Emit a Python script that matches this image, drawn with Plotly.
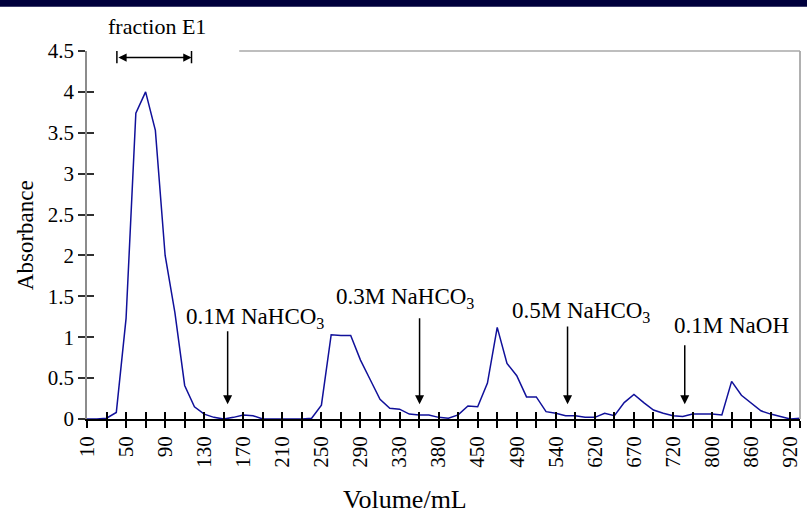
import plotly.graph_objects as go

# ---- data ----
volumes = [10, 20, 30, 40, 50, 60, 70, 80, 90, 100, 110, 120, 130, 140, 150, 160,
           170, 180, 190, 200, 210, 220, 230, 240, 250, 260, 270, 280, 290, 300,
           310, 320, 330, 340, 355, 370, 380, 400, 420, 440, 450, 460, 470, 480,
           490, 500, 515, 525, 540, 560, 580, 600, 620, 630, 645, 660, 670, 680,
           695, 705, 720, 740, 760, 780, 800, 815, 830, 845, 860, 875, 890, 905,
           920, 930]

absorbance = [0.0, 0.0, 0.01, 0.08, 1.23, 3.74, 4.0, 3.53, 2.0, 1.3,
              0.41, 0.15, 0.06, 0.02, 0.0, 0.02, 0.05, 0.04, 0.0, 0.0,
              0.0, 0.0, 0.0, 0.01, 0.17, 1.03, 1.02, 1.02, 0.72, 0.48,
              0.24, 0.13, 0.12, 0.06, 0.05, 0.05, 0.02, 0.01, 0.05, 0.16,
              0.15, 0.44, 1.12, 0.68, 0.53, 0.27, 0.27, 0.09, 0.07, 0.04,
              0.04, 0.02, 0.02, 0.07, 0.04, 0.2, 0.3, 0.2, 0.11, 0.07,
              0.04, 0.03, 0.06, 0.06, 0.06, 0.05, 0.46, 0.29, 0.2, 0.1,
              0.06, 0.03, 0.0, 0.01]

y_ticks = [0, 0.5, 1, 1.5, 2, 2.5, 3, 3.5, 4, 4.5]
y_tick_labels = ["0", "0.5", "1", "1.5", "2", "2.5", "3", "3.5", "4", "4.5"]

eluents = ["0.1M NaHCO<sub>3</sub>", "0.3M NaHCO<sub>3</sub>",
           "0.5M NaHCO<sub>3</sub>", "0.1M NaOH"]
eluent_pos = [14.4, 34.05, 49.2, 61.2]           # category index of arrow
label_pos = [(17.2, 1.235), (32.6, 1.48), (50.6, 1.31), (65.95, 1.14)]
arrow_tail = [1.09, 1.25, 1.15, 0.92]

FONT = "Liberation Serif, Times New Roman, serif"

idx = list(range(len(volumes)))
tickvals = [i for i in idx if i % 2 == 0] + [len(volumes) - 1]
ticktext = [str(volumes[i]) if i % 4 == 0 else "" for i in idx if i % 2 == 0] + [""]

fig = go.Figure()
fig.add_trace(go.Scatter(x=idx, y=absorbance, mode="lines",
                         line=dict(color="#10109a", width=1.5),
                         hoverinfo="x+y", showlegend=False))
fig.add_trace(go.Scatter(x=[], y=[], xaxis="x2", yaxis="y2", showlegend=False))

xmax = len(volumes) - 1
common_x = dict(range=[0, xmax], tickmode="array", tickvals=tickvals,
                showgrid=False, zeroline=False, ticklen=7, tickwidth=1.5,
                tickcolor="black")
common_y = dict(range=[0, 4.5], tickmode="array", tickvals=y_ticks,
                showgrid=False, zeroline=False, ticklen=7, tickwidth=1.5,
                tickcolor="#303030")

fig.update_layout(
    width=807, height=514,
    margin=dict(l=87, r=5, t=51, b=95),
    paper_bgcolor="white", plot_bgcolor="white",
    font=dict(family=FONT, color="black", size=21),
    xaxis=dict(**common_x, ticktext=ticktext, ticks="outside", tickangle=-90,
               showline=True, linecolor="black", linewidth=1.5,
               tickfont=dict(family=FONT, size=21, color="black")),
    xaxis2=dict(**common_x, overlaying="x", anchor="y", side="bottom",
                ticks="inside", showticklabels=False, showline=False),
    yaxis=dict(**common_y, ticktext=y_tick_labels, ticks="outside",
               showline=True, linecolor="#8c8c8c", linewidth=1.5,
               tickfont=dict(family=FONT, size=21, color="black")),
    yaxis2=dict(**common_y, overlaying="y", anchor="x", side="left",
                ticks="inside", showticklabels=False, showline=False),
    showlegend=False,
)

shapes = [
    # slide header band
    dict(type="rect", xref="paper", yref="paper", x0=-0.13, x1=1.02,
         y0=1.12, y1=1.2, fillcolor="#00003c", line=dict(width=0), layer="above"),
    # plot-area border (top and right)
    dict(type="line", xref="paper", yref="paper", x0=0.2135, x1=1.0, y0=1, y1=1,
         line=dict(color="#a8a8a8", width=1.6)),
    dict(type="line", xref="paper", yref="paper", x0=1.0, x1=1.0, y0=0, y1=1,
         line=dict(color="#a8a8a8", width=1.8)),
    # end bars of fraction E1 span
    dict(type="line", xref="x", yref="y", x0=3.06, x1=3.06, y0=4.35, y1=4.5,
         line=dict(color="black", width=1.5)),
    dict(type="line", xref="x", yref="y", x0=10.7, x1=10.7, y0=4.35, y1=4.5,
         line=dict(color="black", width=1.5)),
]
fig.update_layout(shapes=shapes)

ann = []
# fraction E1 (above plot area -> paper coordinates)
ann.append(dict(x=(157 - 87) / 715, y=(419 - 27) / 368, xref="paper", yref="paper",
                text="fraction E1", showarrow=False,
                font=dict(size=22, family=FONT),
                xanchor="center", yanchor="middle"))
ann.append(dict(x=10.7, y=4.42, ax=3.06, ay=4.42, xref="x", yref="y",
                axref="x", ayref="y", text="", showarrow=True,
                arrowhead=2, startarrowhead=2, arrowside="end+start",
                arrowsize=1.1, startarrowsize=1.1, arrowwidth=1.5,
                arrowcolor="black"))
for name, xa, (lx, ly), tail in zip(eluents, eluent_pos, label_pos, arrow_tail):
    ann.append(dict(x=lx, y=ly, xref="x", yref="y", text=name, showarrow=False,
                    font=dict(size=23, family=FONT), xanchor="center",
                    yanchor="middle"))
    ann.append(dict(x=xa, y=0.18, ax=xa, ay=tail, xref="x", yref="y",
                    axref="x", ayref="y", text="", showarrow=True,
                    arrowhead=2, arrowsize=1.2, arrowwidth=1.5,
                    arrowcolor="black"))
# axis titles
ann.append(dict(x=0.446, y=-0.218, xref="paper", yref="paper", text="Volume/mL",
                showarrow=False, font=dict(size=26, family=FONT),
                xanchor="center", yanchor="middle"))
ann.append(dict(x=-0.0867, y=0.5, xref="paper", yref="paper", text="Absorbance",
                showarrow=False, textangle=-90, font=dict(size=23, family=FONT),
                xanchor="center", yanchor="middle"))
fig.update_layout(annotations=ann)

fig.write_html("out.html",
               config={"displayModeBar": False},
               post_script="document.body.style.margin='0';"
                           "document.body.style.overflow='hidden';")
